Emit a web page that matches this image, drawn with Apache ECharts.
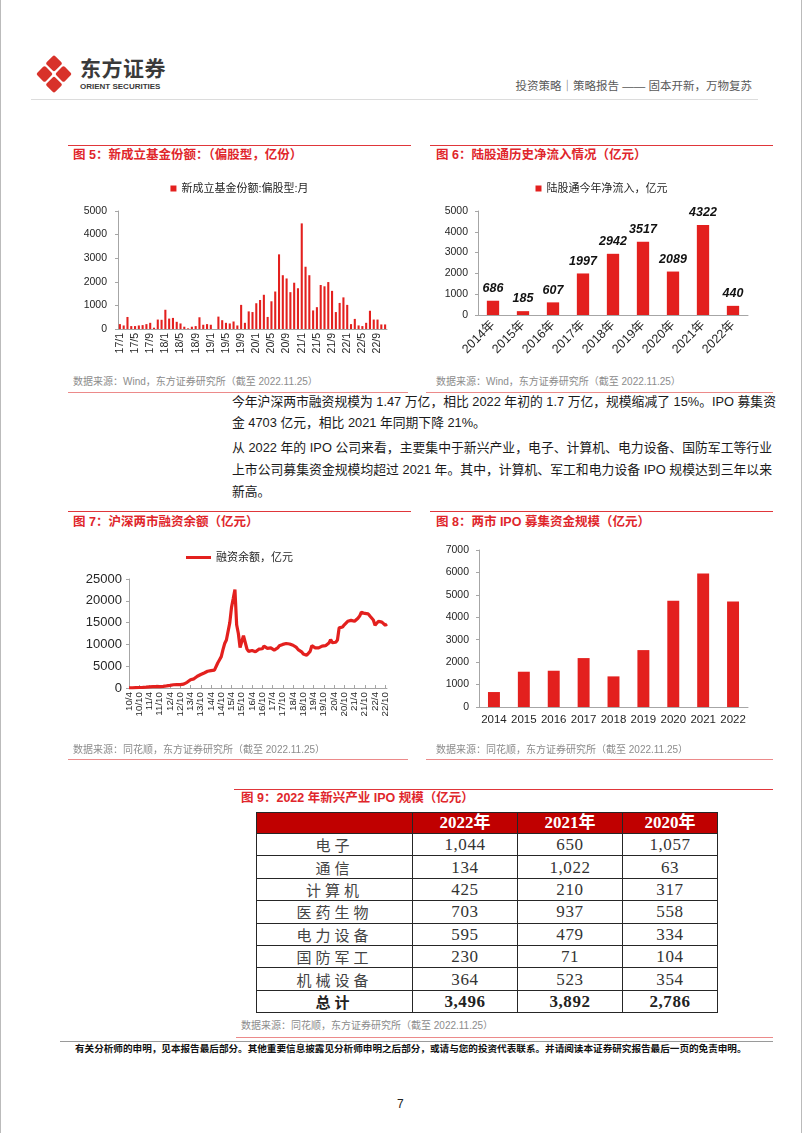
<!DOCTYPE html>
<html><head><meta charset="utf-8">
<script src="https://cdn.jsdelivr.net/npm/echarts@6/dist/echarts.min.js"></script>
<style>
html,body{margin:0;padding:0;background:#fff;}
body{width:802px;height:1133px;position:relative;overflow:hidden;font-family:"Liberation Sans","Noto Sans CJK SC",sans-serif;}
.abs{position:absolute;white-space:nowrap;}
.hl{position:absolute;height:0;}
.ttl{position:absolute;white-space:nowrap;color:#e0262b;font-weight:bold;font-size:12.5px;line-height:14px;}
.src{position:absolute;white-space:nowrap;color:#8c8c8c;font-size:10px;line-height:12px;}
.para{position:absolute;left:232px;width:540px;font-size:12.8px;color:#1a1a1a;line-height:16px;text-align:justify;text-align-last:justify;white-space:nowrap;}
.para.last{text-align-last:left;}
.chart{position:absolute;}
#t9{position:absolute;left:256px;top:812px;border-collapse:collapse;table-layout:fixed;}
#t9 td,#t9 th{border:1px solid #262626;padding:0;text-align:center;vertical-align:middle;white-space:nowrap;}
#t9 th{background:#c00000;color:#fff;font-family:"Liberation Serif","Noto Sans CJK SC",serif;font-weight:bold;font-size:17px;height:20px;line-height:20px;}
#t9 td{height:21.4px;line-height:21px;color:#333;font-family:"Liberation Serif","Noto Sans CJK SC",serif;font-size:17px;letter-spacing:0.6px;}
#t9 td.cat{font-family:"Noto Sans CJK SC",sans-serif;font-size:15px;letter-spacing:4px;color:#444;}
#t9 tr.tot td{font-weight:bold;color:#222;}
</style></head>
<body>
<div style="position:absolute;left:0;top:0;width:1px;height:1133px;background:#bbb"></div>
<div style="position:absolute;left:801px;top:0;width:1px;height:1133px;background:#bbb"></div>

<svg style="position:absolute;left:35px;top:55px" width="38" height="38" viewBox="0 0 34 36">
  <g fill="#d8322a">
    <rect x="-5.7" y="-5.7" width="11.4" height="11.4" rx="1.8" transform="translate(17,8) rotate(45)"/>
    <rect x="-5.7" y="-5.7" width="11.4" height="11.4" rx="1.8" transform="translate(8,18) rotate(45)"/>
    <rect x="-5.7" y="-5.7" width="11.4" height="11.4" rx="1.8" transform="translate(26,18) rotate(45)"/>
    <rect x="-5.7" y="-5.7" width="11.4" height="11.4" rx="1.8" transform="translate(17,28) rotate(45)"/>
  </g>
</svg>
<div class="abs" style="left:80px;top:57px;font-size:21px;line-height:24px;font-weight:bold;color:#3a3a3a;letter-spacing:0.5px">东方证券</div>
<div class="abs" style="left:80px;top:82px;font-size:8px;line-height:10px;font-weight:bold;color:#3a3a3a">ORIENT SECURITIES</div>
<div class="abs" style="right:50px;top:79px;font-size:11.5px;line-height:14px;color:#595959">投资策略｜策略报告 —— 固本开新，万物复苏</div>
<div class="hl" style="left:31px;top:99px;width:727px;border-top:1px solid #dcdcdc"></div>

<!-- figure 5 / 6 frame -->
<div class="hl" style="left:68px;top:145px;width:343px;border-top:1px solid #e0363a"></div>
<div class="hl" style="left:430px;top:145px;width:343px;border-top:1px solid #e0363a"></div>
<div class="ttl" style="left:73px;top:148px">图 5：新成立基金份额：（偏股型，亿份）</div>
<div class="ttl" style="left:436px;top:148px">图 6：陆股通历史净流入情况（亿元）</div>
<div id="c5" class="chart" style="left:68px;top:170px;width:343px;height:200px"></div>
<div id="c6" class="chart" style="left:430px;top:170px;width:343px;height:205px"></div>
<div class="src" style="left:73px;top:376px">数据来源：Wind，东方证券研究所（截至 2022.11.25）</div>
<div class="src" style="left:436px;top:376px">数据来源：Wind，东方证券研究所（截至 2022.11.25）</div>
<div class="hl" style="left:68px;top:392px;width:340px;border-top:1px solid #ec8a8a"></div>
<div class="hl" style="left:426px;top:392px;width:347px;border-top:1px solid #ec8a8a"></div>

<div class="para" style="top:394px">今年沪深两市融资规模为 1.47 万亿，相比 2022 年初的 1.7 万亿，规模缩减了 15%。IPO 募集资</div>
<div class="para last" style="top:415px">金 4703 亿元，相比 2021 年同期下降 21%。</div>
<div class="para" style="top:440px">从 2022 年的 IPO 公司来看，主要集中于新兴产业，电子、计算机、电力设备、国防军工等行业</div>
<div class="para" style="top:462px">上市公司募集资金规模均超过 2021 年。其中，计算机、军工和电力设备 IPO 规模达到三年以来</div>
<div class="para last" style="top:484px">新高。</div>

<!-- figure 7 / 8 frame -->
<div class="hl" style="left:68px;top:511px;width:343px;border-top:1px solid #e0363a"></div>
<div class="hl" style="left:430px;top:511px;width:343px;border-top:1px solid #e0363a"></div>
<div class="ttl" style="left:73px;top:515px">图 7：沪深两市融资余额（亿元）</div>
<div class="ttl" style="left:436px;top:515px">图 8：两市 IPO 募集资金规模（亿元）</div>
<div id="c7" class="chart" style="left:68px;top:535px;width:343px;height:210px"></div>
<div id="c8" class="chart" style="left:430px;top:535px;width:343px;height:210px"></div>
<div class="src" style="left:73px;top:744px">数据来源：同花顺，东方证券研究所（截至 2022.11.25）</div>
<div class="src" style="left:436px;top:744px">数据来源：同花顺，东方证券研究所（截至 2022.11.25）</div>
<div class="hl" style="left:68px;top:759px;width:340px;border-top:1px solid #ec8a8a"></div>
<div class="hl" style="left:426px;top:759px;width:347px;border-top:1px solid #ec8a8a"></div>

<!-- figure 9 -->
<div class="hl" style="left:234px;top:789px;width:539px;border-top:1px solid #e0363a"></div>
<div class="ttl" style="left:241px;top:791px">图 9：2022 年新兴产业 IPO 规模（亿元）</div>
<table id="t9"><colgroup><col style="width:156px"><col style="width:105px"><col style="width:105px"><col style="width:95px"></colgroup><tbody id="t9b"></tbody></table>
<div class="src" style="left:241px;top:1020px">数据来源：同花顺，东方证券研究所（截至 2022.11.25）</div>
<div class="hl" style="left:236px;top:1037px;width:537px;border-top:1px solid #ec8a8a"></div>
<div class="hl" style="left:60px;top:1041px;width:713px;border-top:1.5px solid #9a9a9a"></div>
<div class="abs" style="left:75px;top:1043px;font-size:9.6px;line-height:12px;font-weight:bold;color:#111">有关分析师的申明，见本报告最后部分。其他重要信息披露见分析师申明之后部分，或请与您的投资代表联系。并请阅读本证券研究报告最后一页的免责申明。</div>
<div class="abs" style="left:397px;top:1097px;font-size:12px;line-height:14px;color:#222">7</div>

<script>
// ---------- Figure 5: 新成立基金份额（偏股型，亿份），monthly 2017/1 - 2022/11 ----------
var fund2017 = [207,150,510,124,124,150,165,207,262,55,400,390];
var fund2018 = [815,442,470,304,235,97,28,97,124,497,180,207];
var fund2019 = [180,0,525,373,262,235,318,150,1022,262,746,718];
var fund2020 = [1091,1229,1450,511,1174,1588,3163,2279,2141,1561,1961,1727];
var fund2021 = [4475,2638,2279,787,925,1865,1809,1989,1616,718,1105,1340];
var fund2022 = [1022,207,428,152,124,262,773,400,400,193,193];
var fundYears = [17,18,19,20,21,22];
var fundName = '新成立基金份额:偏股型:月';

// ---------- Figure 6: 陆股通今年净流入（亿元） ----------
var sgtCategories = ['2014年','2015年','2016年','2017年','2018年','2019年','2020年','2021年','2022年'];
var sgtValues = [686,185,607,1997,2942,3517,2089,4322,440];
var sgtName = '陆股通今年净流入，亿元';

// ---------- Figure 7: 融资余额（亿元），monthly 2010/4 - 2022/11 ----------
var fin2010 = [10,25,40,60,80,100,120,160,130];            // Apr - Dec
var fin2011 = [160,190,240,270,290,310,330,350,360,330,370,380];
var fin2012 = [400,470,540,600,680,750,790,780,780,780,820,900];
var fin2013 = [1100,1300,1700,1900,2100,2100,2400,2700,2900,3100,3400,3450];
var fin2014 = [3600,3850,3900,4000,4000,4100,4500,5800,6500,7200,8800,10200];
var fin2015 = [11000,11300,15000,18500,20500,22600,14500,12500,9300,9600,12000,11700];
var fin2016 = [9000,8400,8800,8600,8300,8300,8600,8900,8800,9000,9600,9300];
var fin2017 = [9100,9300,9200,8900,8700,8800,9200,9700,9900,10000,10300,10200];
var fin2018 = [10600,10100,10000,9800,9900,9300,8800,8600,8300,7800,7700,7500];
var fin2019 = [7300,8400,9700,9300,9200,9100,9200,9400,9600,9500,9700,10000];
var fin2020 = [10300,11100,10400,10200,10500,11000,13800,14200,14000,14500,14800,15300];
var fin2021 = [15600,15500,15400,15300,15700,16000,16500,17400,17200,17100,17300,17000];
var fin2022 = [16500,16200,15600,14400,14500,15300,15300,15100,15000,14400,14700];  // Jan - Nov
var finName = '融资余额，亿元';

// ---------- Figure 8: 两市 IPO 募集资金规模（亿元） ----------
var ipoCategories = ['2014','2015','2016','2017','2018','2019','2020','2021','2022'];
var ipoValues = [667,1573,1617,2181,1365,2537,4733,5950,4703];

// ---------- Figure 9 table ----------
var tblHeader = ['2022年','2021年','2020年'];
var tblRows = ['电子','通信','计算机','医药生物','电力设备','国防军工','机械设备','总计'];
var tbl2022 = ['1,044','134','425','703','595','230','364','3,496'];
var tbl2021 = ['650','1,022','210','937','479','71','523','3,892'];
var tbl2020 = ['1,057','63','317','558','334','104','354','2,786'];

// build table
(function(){
  var tb = document.getElementById('t9b');
  var h = '<tr><th></th>' + tblHeader.map(function(t){return '<th>'+t+'</th>';}).join('') + '</tr>';
  for (var i=0;i<tblRows.length;i++){
    h += '<tr' + (i===tblRows.length-1?' class="tot"':'') + '><td class="cat">'+tblRows[i]+'</td><td>'+tbl2022[i]+'</td><td>'+tbl2021[i]+'</td><td>'+tbl2020[i]+'</td></tr>';
  }
  tb.innerHTML = h;
})();

var FONT = "'Liberation Sans','Noto Sans CJK SC',sans-serif";
var AXC = '#a6a6a6';
var RED = '#e3201e';
var TXT = '#262626';
function plain(v){ return String(v); }

// build category labels
var fundCats = [], fundData = [];
[fund2017,fund2018,fund2019,fund2020,fund2021,fund2022].forEach(function(arr,k){
  arr.forEach(function(v,m){ fundCats.push(fundYears[k]+'/'+(m+1)); fundData.push(v); });
});
var finCats = [], finData = [];
[fin2010,fin2011,fin2012,fin2013,fin2014,fin2015,fin2016,fin2017,fin2018,fin2019,fin2020,fin2021,fin2022].forEach(function(arr,k){
  var yy = 10 + k;
  var start = (k===0) ? 4 : 1;
  arr.forEach(function(v,m){ finCats.push(yy+'/'+(start+m)); finData.push(v); });
});

// Chart 5
var c5 = echarts.init(document.getElementById('c5'), null, {renderer:'canvas'});
c5.setOption({
  animation:false,
  textStyle:{fontFamily:FONT},
  legend:{top:8, left:'center', icon:'rect', itemWidth:6, itemHeight:6, itemGap:4,
    textStyle:{fontSize:11, color:TXT, fontFamily:FONT}, data:[fundName]},
  grid:{left:50, right:24, top:41, bottom:41},
  xAxis:{type:'category', data:fundCats,
    axisLine:{lineStyle:{color:AXC}}, axisTick:{show:false},
    axisLabel:{interval:3, rotate:90, fontSize:10.5, color:TXT, margin:4, fontFamily:FONT}},
  yAxis:{type:'value', min:0, max:5000, interval:1000, splitLine:{show:false},
    axisLine:{show:true, lineStyle:{color:AXC}}, axisTick:{show:true, length:3, lineStyle:{color:AXC}},
    axisLabel:{fontSize:10.5, color:TXT, margin:11, fontFamily:FONT, formatter:plain}},
  series:[{type:'bar', name:fundName, data:fundData, barWidth:'55%', itemStyle:{color:RED}}]
});

// Chart 6
var c6 = echarts.init(document.getElementById('c6'));
c6.setOption({
  animation:false,
  textStyle:{fontFamily:FONT},
  legend:{top:8, left:'center', icon:'rect', itemWidth:6, itemHeight:6, itemGap:4,
    textStyle:{fontSize:11, color:TXT, fontFamily:FONT}, data:[sgtName]},
  grid:{left:48, right:25, top:41, bottom:60},
  xAxis:{type:'category', data:sgtCategories,
    axisLine:{lineStyle:{color:AXC}}, axisTick:{show:false},
    axisLabel:{interval:0, rotate:45, fontSize:12.5, color:TXT, margin:8, fontFamily:FONT}},
  yAxis:{type:'value', min:0, max:5000, interval:1000, splitLine:{show:false},
    axisLine:{show:true, lineStyle:{color:AXC}}, axisTick:{show:true, length:3, lineStyle:{color:AXC}},
    axisLabel:{fontSize:10.5, color:TXT, margin:10, fontFamily:FONT, formatter:plain}},
  series:[{type:'bar', name:sgtName, data:sgtValues, barWidth:'41%', itemStyle:{color:RED},
    label:{show:true, position:'top', distance:6, fontSize:12.5, fontWeight:'bold', fontStyle:'italic', color:'#111', fontFamily:FONT}}]
});

// Chart 7
var c7 = echarts.init(document.getElementById('c7'));
c7.setOption({
  animation:false,
  textStyle:{fontFamily:FONT},
  legend:{top:12, left:'center', icon:'rect', itemWidth:25, itemHeight:3, itemGap:4,
    textStyle:{fontSize:11, color:TXT, fontFamily:FONT}, data:[finName]},
  grid:{left:61, right:24, top:44, bottom:57},
  xAxis:{type:'category', data:finCats, boundaryGap:false,
    axisLine:{lineStyle:{color:AXC}},
    axisTick:{show:true, inside:true, interval:5, length:3, lineStyle:{color:AXC}},
    axisLabel:{interval:5, rotate:90, fontSize:9.8, color:TXT, margin:4, fontFamily:FONT}},
  yAxis:{type:'value', min:0, max:25000, interval:5000, splitLine:{show:false},
    axisLine:{show:true, lineStyle:{color:AXC}}, axisTick:{show:true, length:3, lineStyle:{color:AXC}},
    axisLabel:{fontSize:13, color:TXT, margin:7, fontFamily:FONT, formatter:plain}},
  series:[{type:'line', name:finName, data:finData, showSymbol:false, symbol:'none',
    lineStyle:{color:RED, width:3.2}, itemStyle:{color:RED}}]
});

// Chart 8
var c8 = echarts.init(document.getElementById('c8'));
c8.setOption({
  animation:false,
  textStyle:{fontFamily:FONT},
  grid:{left:49, right:25, top:15, bottom:38},
  xAxis:{type:'category', data:ipoCategories,
    axisLine:{lineStyle:{color:AXC}}, axisTick:{show:false},
    axisLabel:{interval:0, fontSize:11.5, color:TXT, margin:7, fontFamily:FONT}},
  yAxis:{type:'value', min:0, max:7000, interval:1000, splitLine:{show:false},
    axisLine:{show:true, lineStyle:{color:AXC}}, axisTick:{show:true, length:3, lineStyle:{color:AXC}},
    axisLabel:{fontSize:10.5, color:TXT, margin:10, fontFamily:FONT, formatter:plain}},
  series:[{type:'bar', data:ipoValues, barWidth:'40%', itemStyle:{color:RED}}]
});
</script>
</body></html>
